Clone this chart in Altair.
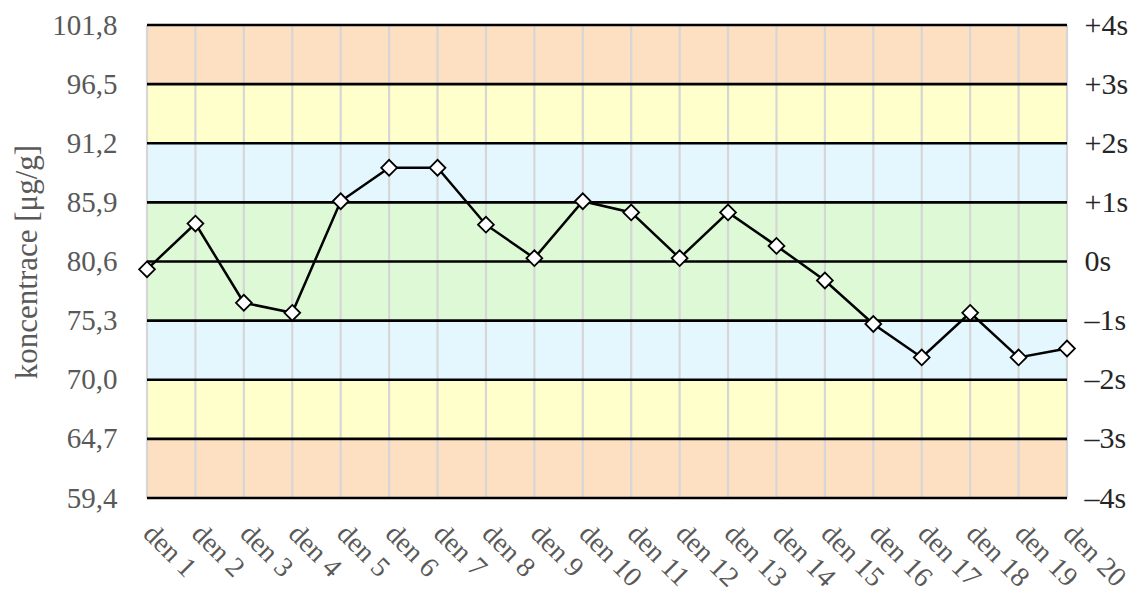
import altair as alt
import pandas as pd

# ---- data ----
days = ["den 1", "den 2", "den 3", "den 4", "den 5", "den 6", "den 7", "den 8", "den 9", "den 10",
        "den 11", "den 12", "den 13", "den 14", "den 15", "den 16", "den 17", "den 18", "den 19", "den 20"]
values = [79.9, 84.0, 76.9, 76.0, 86.0, 89.0, 89.0, 83.9, 80.9, 86.0,
          85.0, 80.9, 85.0, 82.0, 78.9, 75.0, 72.0, 76.0, 72.0, 72.8]

levels = [59.4, 64.7, 70.0, 75.3, 80.6, 85.9, 91.2, 96.5, 101.8]
band_lo = [59.4, 64.7, 70.0, 75.3, 80.6, 85.9, 91.2, 96.5]
band_hi = [64.7, 70.0, 75.3, 80.6, 85.9, 91.2, 96.5, 101.8]
band_zone = ["3s-4s", "2s-3s", "1s-2s", "0-1s", "0-1s", "1s-2s", "2s-3s", "3s-4s"]

zone_domain = ["0-1s", "1s-2s", "2s-3s", "3s-4s"]
zone_colors = ["#DEF9D6", "#E5F7FE", "#FFFFCC", "#FDDFC1"]

W, H = 920, 473
FONT = "Liberation Serif"

df = pd.DataFrame({"day": days, "value": values})
bands = pd.DataFrame({"lo": band_lo, "hi": band_hi, "zone": band_zone})
lev = pd.DataFrame({"level": levels})

yscale = alt.Scale(domain=[59.4, 101.8], nice=False, zero=False)
xscale = alt.Scale(type="point", padding=0)
xaxis = alt.Axis(title=None, labelAngle=45, labelAlign="left", labelBaseline="middle",
                 labelPadding=31, labelFontSize=28, labelColor="#595959", labelFont=FONT,
                 domain=False, ticks=False, grid=False, labelOverlap=False)

band_layer = alt.Chart(bands).mark_rect().encode(
    x=alt.value(0), x2=alt.value(W),
    y=alt.Y("lo:Q", scale=yscale, axis=None),
    y2="hi:Q",
    color=alt.Color("zone:N", scale=alt.Scale(domain=zone_domain, range=zone_colors), legend=None),
)

vgrid = alt.Chart(df).mark_rule(color="#D6D6D6", strokeWidth=2.2).encode(
    x=alt.X("day:N", sort=days, scale=xscale, axis=xaxis),
    y=alt.value(0), y2=alt.value(H),
)

hlines = alt.Chart(lev).mark_rule(color="black", strokeWidth=2.6).encode(
    x=alt.value(0), x2=alt.value(W),
    y=alt.Y("level:Q", scale=yscale,
            axis=alt.Axis(orient="right", title=None, values=levels, domain=False, ticks=False,
                          grid=False, labelPadding=17, labelFontSize=30, labelColor="#262626",
                          labelFont=FONT, labelAlign="left",
                          labelExpr="(round((datum.value-80.6)/5.3) > 0 ? '+' : (round((datum.value-80.6)/5.3) < 0 ? '\u2013' : '')) + abs(round((datum.value-80.6)/5.3)) + 's'")),
)

line = alt.Chart(df).mark_line(color="black", strokeWidth=2.5).encode(
    x=alt.X("day:N", sort=days, scale=xscale, axis=xaxis),
    y=alt.Y("value:Q", scale=yscale,
            axis=alt.Axis(orient="left", title="koncentrace [\u03bcg/g]", values=levels, domain=False,
                          ticks=False, grid=False, labelPadding=30, labelFontSize=29,
                          labelColor="#595959", labelFont=FONT,
                          labelExpr="replace(format(datum.value, '.1f'), '.', ',')",
                          titleFont=FONT, titleFontSize=31, titleFontWeight="normal",
                          titleColor="#595959", titlePadding=8)),
)

points = alt.Chart(df).mark_point(shape="diamond", filled=True, fill="white", stroke="black",
                                  strokeWidth=1.8, size=250, opacity=1).encode(
    x=alt.X("day:N", sort=days, scale=xscale, axis=xaxis),
    y=alt.Y("value:Q", scale=yscale, axis=None),
)

chart = alt.layer(band_layer, vgrid, hlines, line, points).resolve_scale(
    y="independent"
).resolve_axis(y="independent").properties(
    width=W, height=H,
    autosize=alt.AutoSizeParams(type="none"),
    padding={"left": 139, "top": 17, "right": 66, "bottom": 96},
).configure_view(stroke=None)

chart.save("out.html", embed_options={"renderer": "svg", "actions": False})
